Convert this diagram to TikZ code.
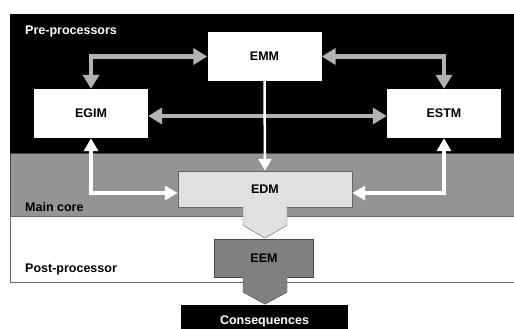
\documentclass[tikz,border=0pt]{standalone}
\usepackage{fontspec}
\setmainfont{Liberation Sans}
\usetikzlibrary{arrows.meta, positioning, calc}

\tikzset{
  modbox/.style={fill=white, inner sep=0pt, minimum width=114pt, minimum height=49pt},
  tierlab/.style={anchor=west, inner sep=0pt},
  grayarrow/.style={draw=black!30, line width=4.5pt,
    {Triangle[width=16pt,length=14pt]}-{Triangle[width=16pt,length=14pt]}},
  whitearrow/.style={draw=white, line width=3.5pt,
    {Triangle[width=14pt,length=13pt]}-{Triangle[width=14pt,length=13pt]}}
}

\begin{document}
\begin{tikzpicture}[x=1pt, y=-1pt, font=\fontsize{12.5}{14}\selectfont\bfseries]

\clip (0,0) rectangle (514,329);

% tiers
\fill[black] (10,14) rectangle (515,153);
\filldraw[fill=black!42, draw=black!70] (10,153) rectangle (515,216);
\draw[black!60] (515,216) -- (10,216) -- (10,282) -- (515,282);

\node[tierlab, text=white] (pre)  at (25,31)  {Pre-processors};
\node[tierlab]             (main) at (25,207) {Main core};
\node[tierlab]             (post) at (25,269) {Post-processor};

% pre-processors
\node[modbox] (emm)  at (264.5,56.5) {EMM};
\node[modbox] (egim) at (91,113.5)   {EGIM};
\node[modbox] (estm) at (444,113.5)  {ESTM};

\draw[grayarrow] (emm.west) -| (egim.north);
\draw[grayarrow] (emm.east) -| (estm.north);
\draw[grayarrow] ([yshift=-2.5pt]egim.east) -- ([yshift=-2.5pt]estm.west);

% main core
\node[fill=black!12, draw=black!60, minimum width=174pt, minimum height=36pt,
      inner sep=0pt] (edm) at (265,189) {EDM};
\path[fill=black!12, draw=black!60]
  ([xshift=-22pt,yshift=0.6pt]edm.south) -- ++(0,18.6) -- ($(edm.south)+(0,31)$)
  -- ($(edm.south)+(22,18)$) -- ([xshift=22pt,yshift=0.6pt]edm.south);

\draw[whitearrow] (egim.south) |- ([yshift=-4pt]edm.west);
\draw[whitearrow] (estm.south) |- ([yshift=-4pt]edm.east);
\draw[white, line width=2.5pt, -{Triangle[width=13pt,length=12pt]}] (emm.south) -- (edm.north);

% post-processor
\node[fill=black!50, draw=black!70, minimum width=99pt, minimum height=38pt,
      inner sep=0pt] (eem) at (264,258) {EEM};
\path[fill=black!50, draw=black!70]
  ([xshift=-21pt,yshift=0.6pt]eem.south) -- ++(0,15.6) -- ($(eem.south)+(1,27)$)
  -- ($(eem.south)+(23,15)$) -- ([xshift=23pt,yshift=0.6pt]eem.south);

\node[fill=black, text=white, minimum width=167pt, minimum height=32pt,
      inner sep=0pt] (cons) at (264.5,321) {Consequences};

\end{tikzpicture}
\end{document}
